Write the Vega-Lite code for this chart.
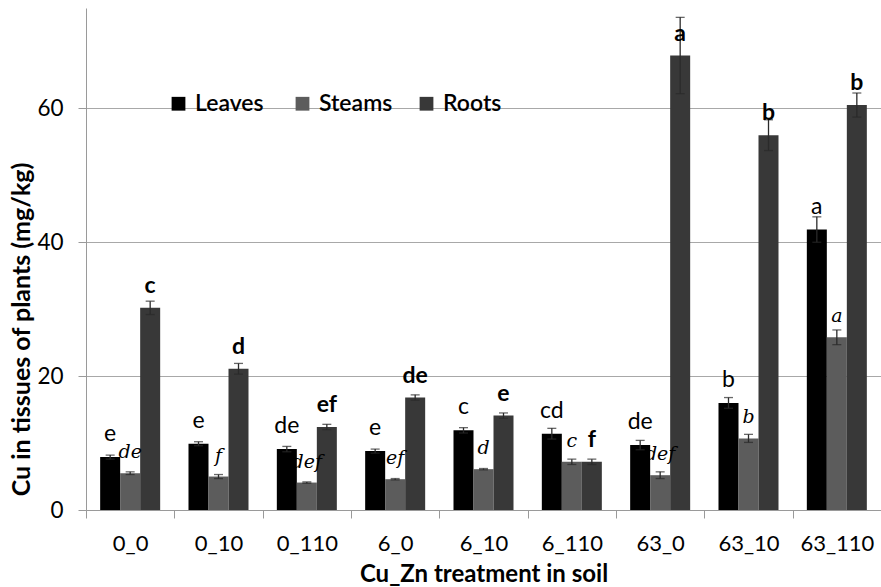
{
  "$schema": "https://vega.github.io/schema/vega-lite/v6.json",
  "autosize": "none",
  "width": 795,
  "height": 502,
  "padding": {"left": 86, "top": 8, "right": 0, "bottom": 77},
  "background": "white",
  "config": {
    "font": "Lato",
    "view": {"stroke": null},
    "axis": {
      "domainColor": "#9a9a9a",
      "tickColor": "#9a9a9a",
      "gridColor": "#a8a8a8",
      "labelColor": "#000000",
      "titleColor": "#000000",
      "labelFont": "Lato",
      "titleFont": "Lato"
    }
  },
  "data": {
    "values": [
      {"cat": "0_0", "part": "Leaves", "value": 7.9, "lo": 7.6, "hi": 8.2, "letter": "e"},
      {"cat": "0_0", "part": "Steams", "value": 5.5, "lo": 5.3, "hi": 5.7, "letter": "de"},
      {"cat": "0_0", "part": "Roots", "value": 30.2, "lo": 29.2, "hi": 31.2, "letter": "c"},
      {"cat": "0_10", "part": "Leaves", "value": 9.9, "lo": 9.6, "hi": 10.2, "letter": "e"},
      {"cat": "0_10", "part": "Steams", "value": 5.0, "lo": 4.7, "hi": 5.3, "letter": "f"},
      {"cat": "0_10", "part": "Roots", "value": 21.1, "lo": 20.3, "hi": 21.9, "letter": "d"},
      {"cat": "0_110", "part": "Leaves", "value": 9.1, "lo": 8.7, "hi": 9.5, "letter": "de"},
      {"cat": "0_110", "part": "Steams", "value": 4.1, "lo": 4.0, "hi": 4.2, "letter": "def"},
      {"cat": "0_110", "part": "Roots", "value": 12.4, "lo": 12.0, "hi": 12.8, "letter": "ef"},
      {"cat": "6_0", "part": "Leaves", "value": 8.8, "lo": 8.5, "hi": 9.1, "letter": "e"},
      {"cat": "6_0", "part": "Steams", "value": 4.6, "lo": 4.5, "hi": 4.7, "letter": "ef"},
      {"cat": "6_0", "part": "Roots", "value": 16.8, "lo": 16.4, "hi": 17.2, "letter": "de"},
      {"cat": "6_10", "part": "Leaves", "value": 11.9, "lo": 11.5, "hi": 12.3, "letter": "c"},
      {"cat": "6_10", "part": "Steams", "value": 6.1, "lo": 6.0, "hi": 6.2, "letter": "d"},
      {"cat": "6_10", "part": "Roots", "value": 14.1, "lo": 13.7, "hi": 14.5, "letter": "e"},
      {"cat": "6_110", "part": "Leaves", "value": 11.4, "lo": 10.6, "hi": 12.2, "letter": "cd"},
      {"cat": "6_110", "part": "Steams", "value": 7.2, "lo": 6.8, "hi": 7.6, "letter": "c"},
      {"cat": "6_110", "part": "Roots", "value": 7.2, "lo": 6.8, "hi": 7.6, "letter": "f"},
      {"cat": "63_0", "part": "Leaves", "value": 9.7, "lo": 9.0, "hi": 10.4, "letter": "de"},
      {"cat": "63_0", "part": "Steams", "value": 5.2, "lo": 4.7, "hi": 5.7, "letter": "def"},
      {"cat": "63_0", "part": "Roots", "value": 67.9, "lo": 62.2, "hi": 73.6, "letter": "a"},
      {"cat": "63_10", "part": "Leaves", "value": 16.0, "lo": 15.2, "hi": 16.8, "letter": "b"},
      {"cat": "63_10", "part": "Steams", "value": 10.7, "lo": 10.1, "hi": 11.3, "letter": "b"},
      {"cat": "63_10", "part": "Roots", "value": 56.0, "lo": 53.7, "hi": 58.3, "letter": "b"},
      {"cat": "63_110", "part": "Leaves", "value": 41.9, "lo": 40.0, "hi": 43.8, "letter": "a"},
      {"cat": "63_110", "part": "Steams", "value": 25.8, "lo": 24.7, "hi": 26.9, "letter": "a"},
      {"cat": "63_110", "part": "Roots", "value": 60.5, "lo": 58.7, "hi": 62.3, "letter": "b"}
    ]
  },
  "encoding": {
    "x": {
      "field": "cat",
      "type": "nominal",
      "sort": ["0_0", "0_10", "0_110", "6_0", "6_10", "6_110", "63_0", "63_10", "63_110"],
      "scale": {"paddingInner": 0, "paddingOuter": 0},
      "axis": {
        "title": "Cu_Zn treatment in soil",
        "labelAngle": 0,
        "labelFontSize": 22,
        "titleFontSize": 24,
        "titleFontWeight": "bold",
        "tickBand": "extent",
        "tickSize": 8,
        "labelPadding": 15,
        "titlePadding": 8
      }
    },
    "xOffset": {
      "field": "part",
      "type": "nominal",
      "sort": ["Leaves", "Steams", "Roots"],
      "scale": {"paddingInner": 0, "paddingOuter": 0.708}
    }
  },
  "layer": [
    {
      "mark": {"type": "bar"},
      "encoding": {
        "y": {
          "field": "value",
          "type": "quantitative",
          "scale": {"domain": [0, 75], "nice": false},
          "axis": {
            "title": "Cu in tissues of plants (mg/kg)",
            "values": [0, 20, 40, 60],
            "grid": true,
            "labelFontSize": 22.5,
            "titleFontSize": 25,
            "titleFontWeight": "bold",
            "titleY": 321,
            "tickSize": 8,
            "labelPadding": 15,
            "titlePadding": 2
          }
        },
        "color": {
          "field": "part",
          "type": "nominal",
          "scale": {"domain": ["Leaves", "Steams", "Roots"], "range": ["#000000", "#5c5c5c", "#383838"]},
          "legend": {
            "title": null,
            "orient": "none",
            "direction": "horizontal",
            "legendX": 81,
            "legendY": 84,
            "gridAlign": "all",
            "symbolType": "square",
            "symbolSize": 190,
            "symbolStrokeWidth": 0,
            "labelFontSize": 23,
            "labelFontWeight": 600,
            "labelColor": "#000000",
            "columnPadding": 22,
            "labelOffset": 5
          }
        }
      }
    },
    {
      "mark": {"type": "rule", "color": "#2a2a2a", "strokeWidth": 1.3},
      "encoding": {
        "y": {"field": "lo", "type": "quantitative"},
        "y2": {"field": "hi"}
      }
    },
    {
      "mark": {"type": "tick", "color": "#2a2a2a", "thickness": 1.3, "size": 9, "orient": "horizontal"},
      "encoding": {"y": {"field": "hi", "type": "quantitative"}}
    },
    {
      "mark": {"type": "tick", "color": "#2a2a2a", "thickness": 1.3, "size": 9, "orient": "horizontal"},
      "encoding": {"y": {"field": "lo", "type": "quantitative"}}
    },
    {
      "transform": [{"filter": "datum.part === 'Leaves'"}],
      "mark": {"type": "text", "fontSize": 23, "baseline": "middle", "dy": -23, "color": "#000000", "font": "Lato"},
      "encoding": {"y": {"field": "value", "type": "quantitative"}, "text": {"field": "letter"}}
    },
    {
      "transform": [{"filter": "datum.part === 'Steams'"}],
      "mark": {"type": "text", "fontSize": 19, "fontStyle": "italic", "baseline": "middle", "dy": -21, "color": "#000000", "font": "DejaVu Serif"},
      "encoding": {"y": {"field": "value", "type": "quantitative"}, "text": {"field": "letter"}}
    },
    {
      "transform": [{"filter": "datum.part === 'Roots'"}],
      "mark": {"type": "text", "fontSize": 23, "fontWeight": "bold", "baseline": "middle", "dy": -22, "color": "#000000", "font": "Lato"},
      "encoding": {"y": {"field": "value", "type": "quantitative"}, "text": {"field": "letter"}}
    }
  ]
}
